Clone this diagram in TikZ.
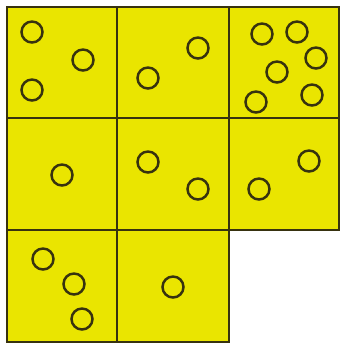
\documentclass[tikz,border=0pt]{standalone}
\usepackage{tikz}
\usepackage{xcolor}

\definecolor{cellyellow}{RGB}{234,229,0}
\definecolor{edgedark}{RGB}{55,50,15}

\begin{document}
\begin{tikzpicture}[x = 0.02cm, y = -0.02cm]
            \useasboundingbox (0,0) rectangle (341,346);
            \coordinate (A) at (7,7);
            \coordinate (B) at (339,7);
            \coordinate (C) at (339,230);
            \coordinate (D) at (229,230);
            \coordinate (E) at (229,342);
            \coordinate (F) at (7,342);
            \fill[cellyellow] (A) -- (B) -- (C) -- (D) -- (E) -- (F) -- cycle;
            \draw[edgedark, line width=1.6pt] (A) -- (B) -- (C) -- (D) -- (E) -- (F) -- cycle;
            \draw[edgedark, line width=1.6pt] (117,7) -- (117,342) (229,7) -- (229,230)
                (7,118) -- (339,118) (7,230) -- (229,230);
            \draw[edgedark, line width=1.4pt]
                (32,32) circle[radius=10.5] (83,60) circle[radius=10.5] (32,90) circle[radius=10.5]
                (198,48) circle[radius=10.5] (148,78) circle[radius=10.5]
                (262,34) circle[radius=10.5] (297,32) circle[radius=10.5] (316,58) circle[radius=10.5]
                (277,72) circle[radius=10.5] (312,95) circle[radius=10.5] (256,102) circle[radius=10.5]
                (62,175) circle[radius=10.5]
                (148,162) circle[radius=10.5] (198,189) circle[radius=10.5]
                (309,161) circle[radius=10.5] (259,189) circle[radius=10.5]
                (43,259) circle[radius=10.5] (74,284) circle[radius=10.5] (82,319) circle[radius=10.5]
                (173,287) circle[radius=10.5];
        \end{tikzpicture}
\end{document}
